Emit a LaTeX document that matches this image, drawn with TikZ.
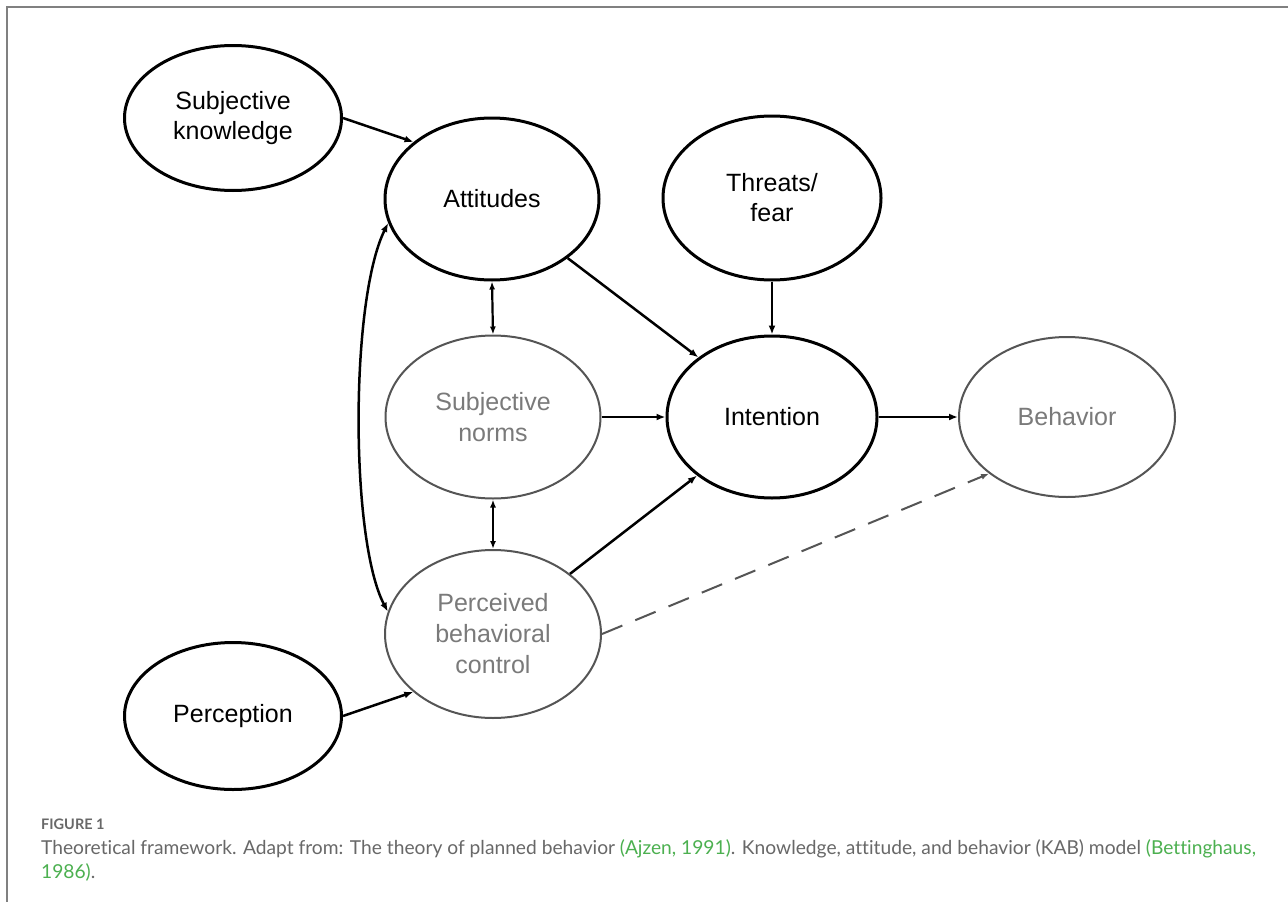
\documentclass[tikz,border=0pt]{standalone}
\usepackage{fontspec}
\setmainfont{Liberation Sans}
\newfontfamily\capfont[Ligatures=NoCommon]{Lato}
\usetikzlibrary{shapes.geometric,arrows.meta}
\definecolor{capgray}{HTML}{686868}
\definecolor{capgreen}{HTML}{4CB050}
\definecolor{elgray}{HTML}{555555}
\definecolor{txgray}{HTML}{7A7A7A}
\begin{document}
\begin{tikzpicture}[x=1pt,y=-1pt,
 blk/.style={ellipse, draw=black, line width=3pt, inner sep=0pt, align=center, font=\fontsize{25}{30}\selectfont, text=black},
 gry/.style={ellipse, draw=elgray, line width=2pt, inner sep=0pt, align=center, font=\fontsize{25}{31}\selectfont, text=txgray},
 conn/.style={line width=2.5pt, -{Latex[length=9pt,width=7pt]}},
 bidir/.style={line width=2.2pt, {Latex[length=8pt,width=6pt]}-{Latex[length=8pt,width=6pt]}},
 dsh/.style={draw=elgray, line width=2pt, dash pattern=on 22pt off 14pt, -{Latex[length=8pt,width=6pt]}},
 framel/.style={draw=gray, line width=1.5pt},
 captxt/.style={anchor=base west, inner sep=0pt, font=\capfont\fontsize{19.2}{25}\selectfont, text=capgray}]
\useasboundingbox (0,0) rectangle (1288,902);
\fill[white] (0,0) rectangle (1288,902);
\draw[framel] (7,902) -- (7,7) -- (1288,7);

\node[blk, minimum width=217pt, minimum height=145pt] (sk) at (233,118) {Subjective\\knowledge};
\node[blk, minimum width=214pt, minimum height=162pt] (att) at (492,199) {Attitudes};
\node[blk, minimum width=218pt, minimum height=164pt] (thr) at (772,198) {Threats/\\fear};
\node[gry, minimum width=215pt, minimum height=163pt] (sn) at (493,417) {Subjective\\norms};
\node[blk, minimum width=210pt, minimum height=162pt] (int) at (772,417) {Intention};
\node[gry, minimum width=216pt, minimum height=160pt] (beh) at (1067,417) {Behavior};
\node[gry, minimum width=216pt, minimum height=168pt] (pbc) at (493,634) {Perceived\\behavioral\\control};
\node[blk, minimum width=217pt, minimum height=147pt] (perc) at (233,716) {Perception};

\draw[conn] (sk.east) -- (att.144);
\draw[line width=2.5pt, {Latex[length=9pt,width=7pt]}-{Latex[length=9pt,width=7pt]}] (att.193) .. controls (350,300) and (350,540) .. (pbc.168);
\draw[bidir] (att.south) -- (sn.north);
\draw[bidir] (sn.south) -- (pbc.north);
\draw[conn] (att.-38) -- (int.141);
\draw[conn] (thr.south) -- (int.north);
\draw[conn] (sn.east) -- (int.west);
\draw[conn] (pbc.38) -- (int.218);
\draw[conn] (int.east) -- (beh.west);
\draw[dsh] (pbc.east) -- (beh.216);
\draw[conn] (perc.east) -- (pbc.216);

\node[anchor=base west, inner sep=0pt, font=\capfont\bfseries\fontsize{14.5}{16}\selectfont, text=capgray] (fig) at (41,829) {FIGURE 1};
\node[captxt] (cap1) at (41,854) {Theoretical framework. Adapt from: The theory of planned behavior \textcolor{capgreen}{(Ajzen, 1991)}. Knowledge, attitude, and behavior (KAB) model \textcolor{capgreen}{(Bettinghaus,}};
\node[captxt] (cap2) at (41,878) {\textcolor{capgreen}{1986)}.};
\end{tikzpicture}
\end{document}
